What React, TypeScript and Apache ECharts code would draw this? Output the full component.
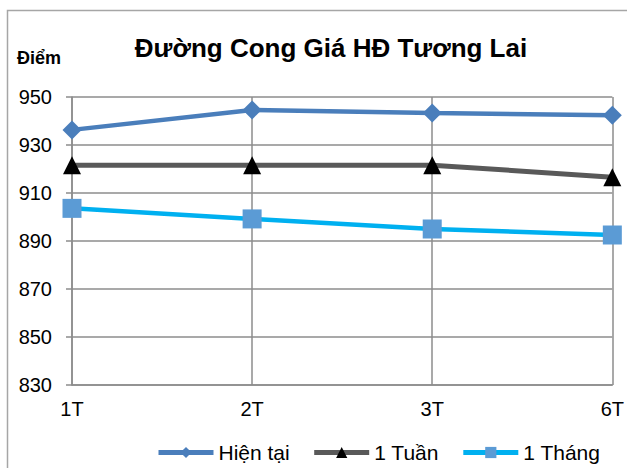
import React, { useEffect, useRef } from "react";
import * as echarts from "echarts";

const categories = ["1T", "2T", "3T", "6T"];
const hienTai = [936.3, 944.6, 943.3, 942.4];
const motTuan = [921.6, 921.6, 921.6, 916.6];
const motThang = [903.6, 899.2, 895.0, 892.5];
const yTicks = { min: 830, max: 950, step: 20 };

export default function App() {
  const ref = useRef<HTMLDivElement>(null);
  useEffect(() => {
    const chart = echarts.init(ref.current!, null, { renderer: "svg" });
    const font = "'Liberation Sans', Arial, sans-serif";
    chart.setOption({
      animation: false,
      backgroundColor: "#ffffff",
      textStyle: { fontFamily: font },
      title: {
        text: "Đường Cong Giá HĐ Tương Lai",
        left: 326,
        textAlign: "center",
        top: 30,
        textStyle: { fontSize: 26, fontWeight: "bold", color: "#000", fontFamily: font },
      },
      graphic: [
        {
          type: "rect",
          shape: { x: 7.5, y: 10.5, width: 700, height: 600 },
          style: { fill: "none", stroke: "#a6a6a6", lineWidth: 1.5 },
          silent: true,
        },
        {
          type: "text",
          left: 17,
          top: 49,
          style: { text: "Điểm", fontSize: 18, fontWeight: "bold", fill: "#000", fontFamily: font },
        },
      ],
      legend: {
        bottom: 0,
        left: 151,
        itemWidth: 55,
        itemHeight: 14,
        itemGap: 22,
        lineStyle: { width: 5 },
        textStyle: { fontSize: 21, color: "#000", fontFamily: font, padding: [0, 0, 0, 0] },
        data: ["Hiện tại", "1 Tuần", "1 Tháng"],
      },
      grid: { left: 72, right: 13, top: 97, bottom: 83 },
      xAxis: {
        type: "category",
        data: categories,
        boundaryGap: false,
        axisLine: { lineStyle: { color: "#8c8c8c", width: 1.5 } },
        axisTick: { show: false },
        axisLabel: { fontSize: 20, color: "#000", margin: 14, fontFamily: font },
        splitLine: { show: true, lineStyle: { color: "#8c8c8c", width: 1.5 } },
      },
      yAxis: {
        type: "value",
        min: yTicks.min,
        max: yTicks.max,
        interval: yTicks.step,
        axisLine: { show: true, lineStyle: { color: "#8c8c8c", width: 1.5 } },
        axisTick: { show: true, length: 6, lineStyle: { color: "#8c8c8c", width: 1.5 } },
        axisLabel: { fontSize: 20, color: "#000", margin: 20, fontFamily: font },
        splitLine: { show: true, lineStyle: { color: "#8c8c8c", width: 1.5 } },
      },
      series: [
        {
          name: "Hiện tại",
          type: "line",
          data: hienTai,
          symbol: "diamond",
          symbolSize: 19,
          lineStyle: { color: "#4a7ebb", width: 4.5 },
          itemStyle: { color: "#4a7ebb" },
          z: 3,
        },
        {
          name: "1 Tuần",
          type: "line",
          data: motTuan,
          symbol: "triangle",
          symbolSize: 18,
          lineStyle: { color: "#595959", width: 5 },
          itemStyle: { color: "#000000" },
          z: 3,
        },
        {
          name: "1 Tháng",
          type: "line",
          data: motThang,
          symbol: "rect",
          symbolSize: 19,
          lineStyle: { color: "#00b0f0", width: 4.5 },
          itemStyle: { color: "#5b9bd5" },
          z: 3,
        },
      ],
    });
    return () => chart.dispose();
  }, []);
  return (
    <div
      ref={ref}
      style={{ position: "absolute", left: 0, top: 0, width: 627, height: 468 }}
    />
  );
}
